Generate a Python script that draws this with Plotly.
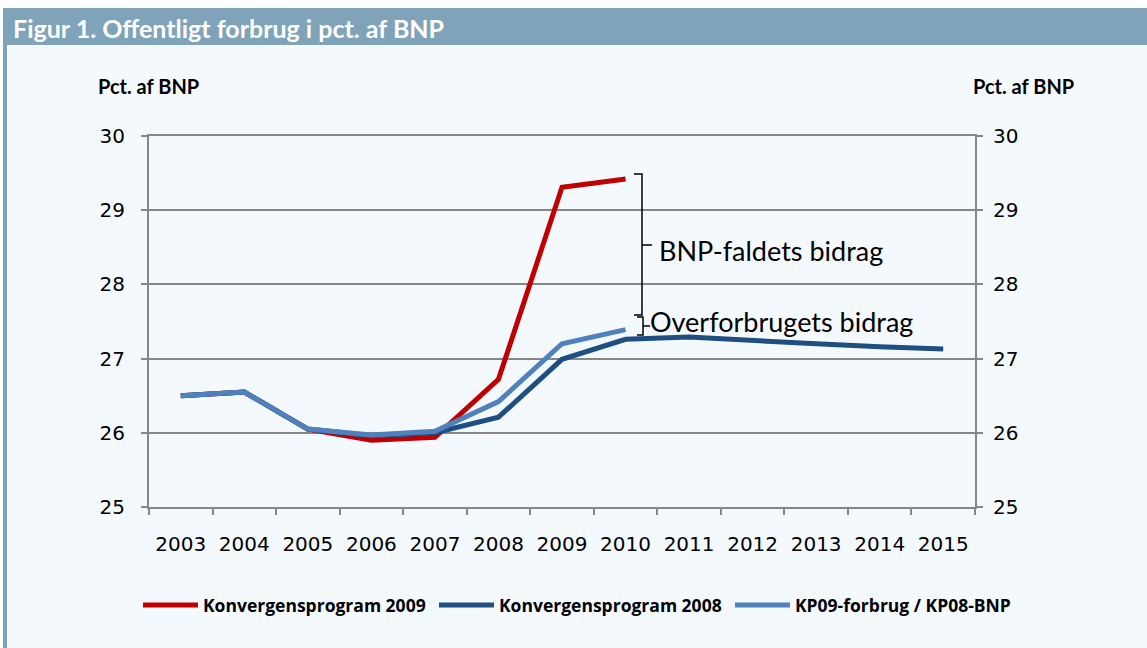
import plotly.graph_objects as go

years = ["2003", "2004", "2005", "2006", "2007", "2008", "2009", "2010",
         "2011", "2012", "2013", "2014", "2015"]
kp2009 = [26.50, 26.55, 26.05, 25.90, 25.94, 26.72, 29.31, 29.42]
kp2008 = [26.50, 26.55, 26.05, 25.96, 26.00, 26.21, 26.99, 27.26,
          27.29, 27.24, 27.20, 27.16, 27.13]
kp09_08 = [26.50, 26.55, 26.05, 25.97, 26.02, 26.42, 27.20, 27.39]

names = ["Konvergensprogram 2009", "Konvergensprogram 2008", "KP09-forbrug / KP08-BNP"]
colors = ["#c00000", "#1f4e83", "#4f81bd"]

y_ticks = [25, 26, 27, 28, 29, 30]
title_text = "Figur 1. Offentligt forbrug i pct. af BNP"
axis_label = "Pct. af BNP"
ann_bnp = "BNP-faldets bidrag"
ann_over = "Overforbrugets bidrag"

W, H = 1147, 648
L, R, T, B = 149, 975, 136, 507  # plot area in px


def px(xp):
    return (xp - L) / (R - L)


def py(yp):
    return (B - yp) / (B - T)


def yv(yp):
    return 25 + (B - yp) / (B - T) * 5


fig = go.Figure()
for name, vals, c in zip(names, [kp2009, kp2008, kp09_08], colors):
    fig.add_trace(go.Scatter(x=years[:len(vals)], y=vals, name=name, mode="lines",
                             line=dict(color=c, width=5)))
# invisible trace to activate right axis
fig.add_trace(go.Scatter(x=years, y=kp2008, yaxis="y2", mode="lines",
                         line=dict(color="rgba(0,0,0,0)"), showlegend=False, hoverinfo="skip"))

panel = "#f4f9fe"
bar = "#7fa3b9"
shapes = [
    dict(type="rect", xref="paper", yref="paper", x0=px(0), x1=px(1147), y0=py(0), y1=py(8),
         fillcolor="white", line=dict(width=0), layer="below"),
    dict(type="rect", xref="paper", yref="paper", x0=px(0), x1=px(3), y0=py(0), y1=py(648),
         fillcolor="white", line=dict(width=0), layer="below"),
    dict(type="rect", xref="paper", yref="paper", x0=px(3), x1=px(1147), y0=py(8), y1=py(45),
         fillcolor=bar, line=dict(width=0), layer="below"),
    dict(type="rect", xref="paper", yref="paper", x0=px(3), x1=px(7), y0=py(45), y1=py(648),
         fillcolor=bar, line=dict(width=0), layer="below"),
]
# brackets
bx = px(642)
bl = px(634)
br = px(652)
top, bot, mid = yv(174), yv(315), yv(245)
shapes.append(dict(type="path", xref="paper", yref="y",
                   path=f"M{bl},{top} L{bx},{top} L{bx},{bot} L{bl},{bot} M{bx},{mid} L{br},{mid}",
                   line=dict(color="black", width=1.5)))
top2, bot2, mid2 = yv(317), yv(335), yv(326)
bl2 = px(637)
bx2 = px(643)
br2 = px(650)
shapes.append(dict(type="path", xref="paper", yref="y",
                   path=f"M{bl2},{top2} L{bx2},{top2} L{bx2},{bot2} L{bl2},{bot2} M{bx2},{mid2} L{br2},{mid2}",
                   line=dict(color="black", width=1.5)))

annotations = [
    dict(text=f"<b>{title_text}</b>", xref="paper", yref="paper", x=px(11), y=py(28),
         xanchor="left", yanchor="middle", showarrow=False,
         font=dict(family="Lato", size=25, color="white")),
    dict(text=f"<b>{axis_label}</b>", xref="paper", yref="paper", x=px(96), y=py(86),
         xanchor="left", yanchor="middle", showarrow=False,
         font=dict(family="Lato", size=20, color="black")),
    dict(text=f"<b>{axis_label}</b>", xref="paper", yref="paper", x=px(1076), y=py(86),
         xanchor="right", yanchor="middle", showarrow=False,
         font=dict(family="Lato", size=20, color="black")),
    dict(text=ann_bnp, xref="paper", yref="y", x=px(657), y=yv(250),
         xanchor="left", yanchor="middle", showarrow=False,
         font=dict(family="Lato", size=27, color="black")),
    dict(text=ann_over, xref="paper", yref="y", x=px(648), y=yv(321),
         xanchor="left", yanchor="middle", showarrow=False,
         font=dict(family="Lato", size=27, color="black")),
]

axis_common = dict(range=[25, 30], tickvals=y_ticks, ticks="outside", ticklen=6,
                   tickcolor="#868686", tickwidth=2, showline=True, linecolor="#868686",
                   linewidth=2, tickfont=dict(family="DejaVu Sans", size=20, color="black"),
                   zeroline=False)

fig.update_layout(
    width=W, height=H,
    margin=dict(l=L, r=W - R, t=T, b=H - B),
    paper_bgcolor=panel, plot_bgcolor=panel,
    showlegend=True,
    legend=dict(orientation="h", x=px(138), y=py(605), xanchor="left", yanchor="middle",
                font=dict(family="Open Sans", size=17.5, color="black", weight="bold"),
                entrywidth=226, entrywidthmode="pixels", bgcolor="rgba(0,0,0,0)",
                itemwidth=55),
    xaxis=dict(type="category", tickson="boundaries", ticks="outside", ticklen=6,
               tickcolor="#868686", tickwidth=2, showline=True, linecolor="#868686",
               linewidth=2, showgrid=False, range=[-0.5, 12.5], mirror=True,
               tickfont=dict(family="DejaVu Sans", size=20, color="black"),
               ticklabelstandoff=18),
    yaxis=dict(**axis_common, showgrid=True, gridcolor="#868686", gridwidth=2,
               ticklabelstandoff=12),
    yaxis2=dict(**axis_common, overlaying="y", side="right", showgrid=False,
                ticklabelstandoff=6),
    shapes=shapes,
    annotations=annotations,
)

fig.write_html("out.html", config={"displayModeBar": False},
               post_script="document.body.style.margin='0px';document.body.style.overflow='hidden';")
